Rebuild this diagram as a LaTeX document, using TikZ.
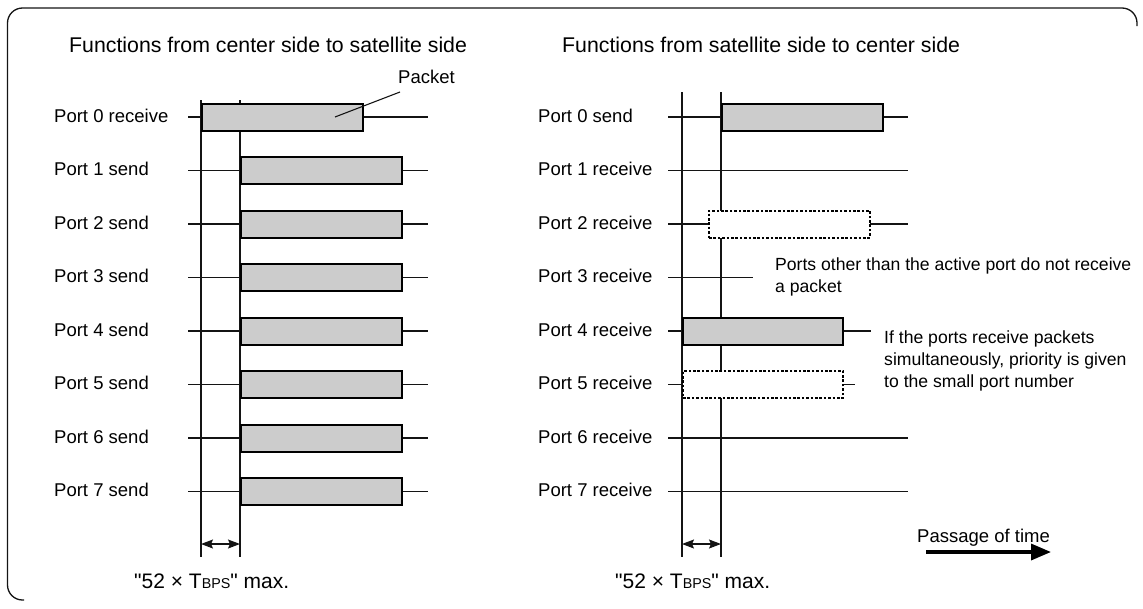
\documentclass[tikz,border=0pt]{standalone}
\usepackage{fontspec}
\setmainfont{Liberation Sans}[Ligatures=TeXOff]
\usetikzlibrary{arrows.meta}
\definecolor{pktgray}{gray}{0.8}
\definecolor{inkline}{gray}{0.08}
\begin{document}
\begin{tikzpicture}[x=1pt,y=-1pt,
  lbl/.style={font=\fontsize{18.5}{22}\selectfont, anchor=base west, inner sep=0pt},
  note/.style={font=\fontsize{17.6}{22}\selectfont, anchor=base west, inner sep=0pt, align=left},
  ttl/.style={font=\fontsize{21.3}{24}\selectfont, anchor=base west, inner sep=0pt},
  dim/.style={font=\fontsize{21}{24}\selectfont, anchor=base west, inner sep=0pt},
  wire/.style={line width=1.1pt, draw=inkline},
  pkt/.style={draw=black, line width=2pt, fill=pktgray, minimum height=27pt,
    inner sep=0pt, anchor=west},
  ghost/.style={draw=black, line width=2pt, dash pattern=on 2.6pt off 1.8pt,
    fill=white, minimum height=27pt, inner sep=0pt, anchor=west},
  span/.style={wire, {Stealth[length=12pt,width=9pt,inset=2pt]}-{Stealth[length=12pt,width=9pt,inset=2pt]}},
]
\useasboundingbox (0,0) rectangle (1143,608);

% outer frame
\draw[line width=1.3pt, draw=inkline, rounded corners=15pt]
  (24,600) -- (7.5,600) -- (7.5,8) -- (1137,8) -- (1137,26);

% titles
\node[ttl] (tl) at (69,52) {Functions from center side to satellite side};
\node[ttl] (tr) at (562,52) {Functions from satellite side to center side};

% ---------------- left panel: center side to satellite side
\foreach \i/\fn in {0/receive,1/send,2/send,3/send,4/send,5/send,6/send,7/send}{
  \pgfmathsetmacro\yy{117+53.5*\i}
  \node[lbl] (ll\i) at (54,\yy+5) {Port \i\ \fn};
  \coordinate (la\i) at (188,\yy);
  \coordinate (lb\i) at (428,\yy);
}
\foreach \i in {0,...,7}{ \draw[wire] (la\i) -- (lb\i); }

\coordinate (lv1t) at (201,100); \coordinate (lv1b) at (201,557);
\coordinate (lv2t) at (240,100); \coordinate (lv2b) at (240,557);
\draw[wire] (lv1t) -- (lv1b);
\draw[wire] (lv2t) -- (lv2b);

\node[pkt, minimum width=161pt] (lp0) at (201,117) {};
\foreach \i in {1,...,7}{
  \pgfmathsetmacro\yy{117+53.5*\i}
  \node[pkt, minimum width=161pt] (lp\i) at (240,\yy) {};
}

\node[lbl] (pk) at (398,83) {Packet};
\coordinate (pka) at (400,92);
\coordinate (pkb) at (335,117);
\draw[wire] (pka) -- (pkb);

\coordinate (ld1) at (201,544); \coordinate (ld2) at (240,544);
\draw[span] (ld1) -- (ld2);
\node[dim] (lmax) at (134,588) {"52 × T{\fontsize{14.3}{15}\selectfont BPS}" max.};

% ---------------- right panel: satellite side to center side
\foreach \i/\fn in {0/send,1/receive,2/receive,3/receive,4/receive,5/receive,6/receive,7/receive}{
  \pgfmathsetmacro\yy{117+53.5*\i}
  \node[lbl] (rl\i) at (538,\yy+5) {Port \i\ \fn};
  \coordinate (ra\i) at (668,\yy);
}
\coordinate (rb0) at (908,117);
\coordinate (rb1) at (908,170.5);
\coordinate (rb2) at (908,224);
\coordinate (rb3) at (753,277.5);
\coordinate (rb4) at (871,331);
\coordinate (rb5) at (855,384.5);
\coordinate (rb6) at (908,438);
\coordinate (rb7) at (908,491.5);
\foreach \i in {0,...,7}{ \draw[wire] (ra\i) -- (rb\i); }

\coordinate (rv1t) at (682,92); \coordinate (rv1b) at (682,557);
\coordinate (rv2t) at (721,92); \coordinate (rv2b) at (721,557);
\draw[wire] (rv1t) -- (rv1b);
\draw[wire] (rv2t) -- (rv2b);

\node[pkt, minimum width=161pt] (rp0) at (721,117) {};
\node[ghost, minimum width=161pt] (rp2) at (708,224) {};
\node[pkt, minimum width=160pt] (rp4) at (682,331) {};
\node[ghost, minimum width=160pt] (rp5) at (682,384.5) {};

% multi-line notes: the base anchor sits on the last line
\node[note] (n1) at (775,292) {Ports other than the active port do not receive\\a packet};
\node[note] (n2) at (884,387) {If the ports receive packets\\simultaneously, priority is given\\to the small port number};

\coordinate (rd1) at (682,544); \coordinate (rd2) at (721,544);
\draw[span] (rd1) -- (rd2);
\node[dim] (rmax) at (615,588) {"52 × T{\fontsize{14.3}{15}\selectfont BPS}" max.};

% time axis
\node[lbl] (tm) at (917,542) {Passage of time};
\coordinate (ta) at (926,552); \coordinate (tb) at (1051,552);
\draw[line width=3.4pt, -{Triangle[length=20pt,width=16pt]}] (ta) -- (tb);
\end{tikzpicture}
\end{document}
